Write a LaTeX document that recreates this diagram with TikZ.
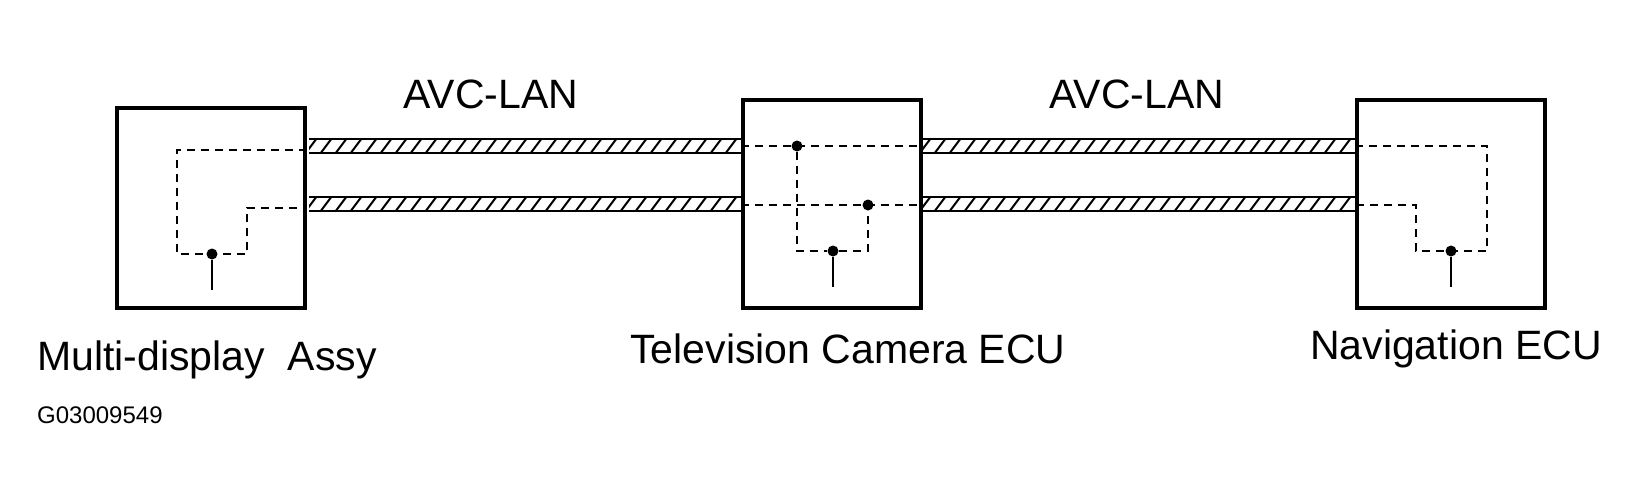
\documentclass[tikz,border=0pt]{standalone}
\usepackage{fontspec}
\setmainfont{Liberation Sans}
\usetikzlibrary{positioning}

\begin{document}
\begin{tikzpicture}[x=1pt, y=-1pt,
unit/.style={draw, line width=4pt, rectangle, inner sep=0pt},
wire/.style={dashed, line width=1.8pt, dash pattern=on 8pt off 6pt},
stem/.style={line width=1.8pt},
lbl/.style={font=\fontsize{41}{48}\selectfont, inner sep=0pt},
dot/.style={circle, fill, inner sep=0pt, minimum size=11pt}
]
\useasboundingbox (0,0) rectangle (1644,499);

\newcommand{\cablepiece}[3]{% from x #1 to x #2 at y #3
  \pgfmathsetmacro{\hnext}{#1+15}
  \begin{scope}
    \clip (#1,#3-7) rectangle (#2,#3+7);
    \foreach \h in {#1,\hnext,...,#2} \draw[line width=2pt] (\h-4,#3+8) -- (\h+8,#3-8);
  \end{scope}
  \draw[line width=2.5pt] (#1,#3-7) -- (#2,#3-7) (#1,#3+7) -- (#2,#3+7);
}

% units
\node[unit, minimum width=188pt, minimum height=200pt] (mda) at (211,208) {};
\node[unit, minimum width=178pt, minimum height=208pt] (tvc) at (832,204) {};
\node[unit, minimum width=188pt, minimum height=208pt] (nav) at (1451,204) {};

% AVC-LAN cables
\cablepiece{309}{741}{146}
\cablepiece{309}{741}{204}
\cablepiece{923}{1355}{146}
\cablepiece{923}{1355}{204}
\node[lbl] (lan1) at (491,94) {AVC-LAN};
\node[lbl] (lan2) at (1137,94) {AVC-LAN};

% inner wiring
\node[dot] (m0) at (212,254) {};
\coordinate (m1) at (212,290);
\draw[wire] (mda.east |- 0,150) -| (177,254) -- (247,254) |- (mda.east |- 0,208);
\draw[stem] (m0) -- (m1);

\node[dot] (t1) at (797,146) {};
\node[dot] (t2) at (868,205) {};
\node[dot] (t0) at (833,251) {};
\coordinate (t3) at (833,287);
\draw[wire] (tvc.west |- t1) -- (tvc.east |- t1);
\draw[wire] (tvc.west |- t2) -- (tvc.east |- t2);
\draw[wire] (t1) |- (t0) -| (t2);
\draw[stem] (t0) -- (t3);

\node[dot] (n0) at (1451,251) {};
\coordinate (n1) at (1451,287);
\draw[wire] (nav.west |- 0,146) -| (1487,251) -- (1416,251) |- (nav.west |- 0,205);
\draw[stem] (n0) -- (n1);

% names
\node[lbl, anchor=west] (mdaname) at (37,360) {Multi-display\ \ Assy};
\node[lbl] (tvcname) at (848,349) {Television Camera ECU};
\node[lbl] (navname) at (1456,349) {Navigation ECU};
\node[font=\fontsize{24}{28}\selectfont, anchor=west, inner sep=0pt] (code) at (37,415) {G03009549};
\end{tikzpicture}
\end{document}
